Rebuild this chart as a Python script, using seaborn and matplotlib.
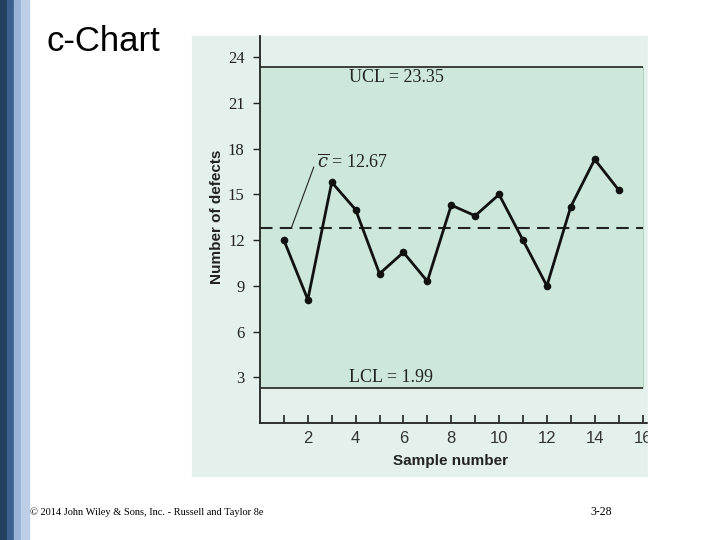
import matplotlib
matplotlib.use("Agg")
import matplotlib.pyplot as plt
from matplotlib.patches import Rectangle
import seaborn as sns
import pandas as pd

# data
samples = list(range(1, 16))
defects = [12.0, 8.1, 15.8, 14.0, 9.8, 11.2, 9.3, 14.3, 13.6, 15.0, 12.0, 9.0, 14.2, 17.3, 15.3]
ucl = 23.35
center = 12.8
lcl = 2.3
ucl_label = "UCL = 23.35"
center_label = r"$\overline{c}$ = 12.67"
lcl_label = "LCL = 1.99"
y_ticks = [3, 6, 9, 12, 15, 18, 21, 24]
x_major = [2, 4, 6, 8, 10, 12, 14, 16]
x_minor = list(range(1, 17))

df = pd.DataFrame({"sample": samples, "defects": defects})

sns.set_style("ticks")
plt.rcParams["mathtext.fontset"] = "dejavuserif"

panel = "#e4f0eb"
inner = "#cde8da"
ink = "#222222"

fig = plt.figure(figsize=(7.2, 5.4), dpi=100)
fig.patch.set_facecolor("white")

# blue stripes on the left of the slide
for x0, w, c in [(0, 7, "#243f60"), (7, 7, "#3b5f8e"), (14, 7, "#9bb4d6"), (21, 8, "#bccfe6")]:
    fig.add_artist(Rectangle((x0 / 720, 0), w / 720, 1, transform=fig.transFigure,
                             color=c, zorder=0))

# light panel behind the chart
fig.add_artist(Rectangle((192 / 720, 1 - 476 / 540), (648 - 192) / 720, (476 - 36) / 540,
                         transform=fig.transFigure, color=panel, zorder=0))

ax = fig.add_axes([260 / 720, 1 - 423 / 540, (648 - 260) / 720, (423 - 36) / 540])
ax.set_facecolor(panel)

ax.fill_between([0, 16], lcl, ucl, color=inner, zorder=1, linewidth=0)
ax.plot([16, 16], [lcl, ucl], color="#b5d3c4", lw=0.8, zorder=1)
ax.hlines([ucl, lcl], 0, 16, color=ink, lw=1.2, zorder=2)
ax.hlines(center, 0, 16, color=ink, lw=1.5, linestyles=(0, (6, 3.5)), zorder=2)

sns.lineplot(data=df, x="sample", y="defects", ax=ax, color="#111111", lw=2,
             marker="o", markersize=5.5, markeredgewidth=0, zorder=3)

serif = ["Liberation Serif", "DejaVu Serif"]
sans = ["Liberation Sans", "DejaVu Sans"]
ax.text(3.71, 22.65, ucl_label, family=serif, fontsize=13, color=ink, va="center")
ax.text(3.71, 3.0, lcl_label, family=serif, fontsize=13, color=ink, va="center")
ax.text(2.37, 17.1, center_label, family=serif, fontsize=13, color=ink, va="center")
ax.plot([1.31, 2.25], [center, 16.8], color=ink, lw=0.8, zorder=2)

ax.set_xlim(0, 16.23)
ax.set_ylim(0, 25.4)
ax.set_yticks(y_ticks)
ax.set_yticklabels([str(v) for v in y_ticks], family=serif, fontsize=12, color=ink)
ax.set_xticks(x_minor, minor=True)
ax.set_xticks(x_major)
ax.set_xticklabels([str(v) for v in x_major], family=sans, fontsize=12, color="#333333")
ax.tick_params(axis="x", which="both", direction="in", length=6, width=1.2, color=ink, pad=6)
ax.tick_params(axis="y", direction="out", length=5, width=1, color=ink, pad=6)

ax.set_xlabel("Sample number", family=sans, fontsize=11, fontweight="bold", color=ink)
ax.set_ylabel("Number of defects", family=sans, fontsize=11, fontweight="bold", color=ink)
ax.xaxis.set_label_coords(0.492, -0.08)
ax.yaxis.set_label_coords(-0.093, 0.532)

for s in ["top", "right"]:
    ax.spines[s].set_visible(False)
for s in ["left", "bottom"]:
    ax.spines[s].set_color(ink)
    ax.spines[s].set_linewidth(1.3)

# cut the "16" label at the panel edge, as in the slide
fig.add_artist(Rectangle((648 / 720, 1 - 476 / 540), 72 / 720, (476 - 36) / 540,
                         transform=fig.transFigure, color="white", zorder=10))

fig.text(47 / 720, 1 - 42 / 540, "c-Chart", family=sans,
         fontsize=25, va="center", ha="left", color="black")
fig.text(30 / 720, 1 - 512 / 540, "© 2014 John Wiley & Sons, Inc. - Russell and Taylor 8e",
         family=serif, fontsize=7.5, va="center", ha="left", color="black")
fig.text(590 / 720, 1 - 512 / 540, "3-28", family=serif, fontsize=8.5, va="center",
         ha="left", color="black")

fig.savefig("out.png", dpi=100)
